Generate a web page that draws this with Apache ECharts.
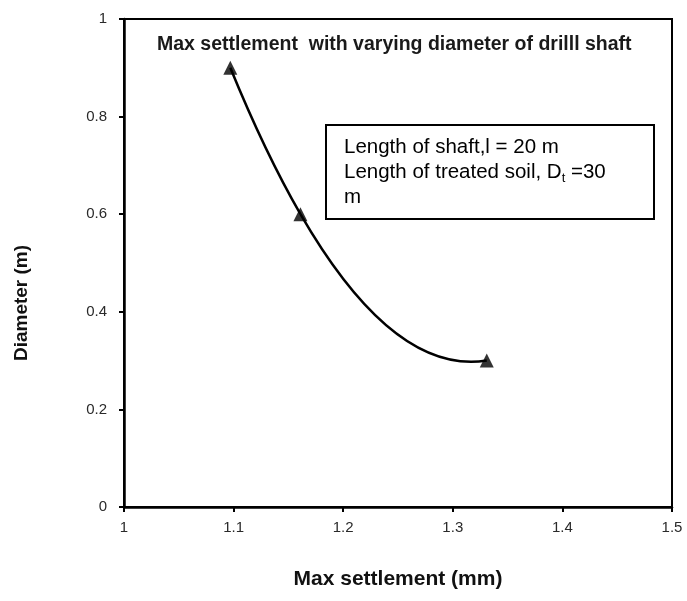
<!DOCTYPE html>
<html><head><meta charset="utf-8">
<script src="https://cdn.jsdelivr.net/npm/echarts@6/dist/echarts.min.js"></script>
<style>html,body{margin:0;padding:0;background:#fff}#c{width:687px;height:601px}</style>
</head><body><div id="c"></div>
<script>
var settlement = [1.097, 1.161, 1.331];
var diameter = [0.9, 0.6, 0.3];
var xTicks = [1, 1.1, 1.2, 1.3, 1.4, 1.5];
var yTicks = [0, 0.2, 0.4, 0.6, 0.8, 1];
var chartTitle = 'Max settlement  with varying diameter of drilll shaft';
var xName = 'Max settlement (mm)';
var yName = 'Diameter (m)';
var noteLines = ['Length of shaft,l = 20 m', 'Length of treated soil, D{sub|t} =30', 'm'];

var pts = settlement.map(function (x, i) { return [x, diameter[i]]; });
var font = 'Liberation Sans, Arial, sans-serif';

// Smooth curve through the data points (cubic Hermite with Bessel tangents), drawn via axis scales
function renderCurve(params, api) {
  if (params.dataIndex !== 0) return null;
  var p = pts.map(function (d) { return api.coord(d); });
  var n = p.length, h = [], s = [], m = [], i;
  for (i = 0; i < n - 1; i++) { h[i] = p[i + 1][0] - p[i][0]; s[i] = (p[i + 1][1] - p[i][1]) / h[i]; }
  for (i = 1; i < n - 1; i++) m[i] = (h[i] * s[i - 1] + h[i - 1] * s[i]) / (h[i - 1] + h[i]);
  if (n > 2) { m[0] = 2 * s[0] - m[1]; m[n - 1] = 2 * s[n - 2] - m[n - 2]; }
  else { m[0] = s[0]; m[1] = s[0]; }
  var children = [];
  for (i = 0; i < n - 1; i++) {
    children.push({
      type: 'bezierCurve',
      shape: {
        x1: p[i][0], y1: p[i][1], x2: p[i + 1][0], y2: p[i + 1][1],
        cpx1: p[i][0] + h[i] / 3, cpy1: p[i][1] + m[i] * h[i] / 3,
        cpx2: p[i + 1][0] - h[i] / 3, cpy2: p[i + 1][1] - m[i + 1] * h[i] / 3
      },
      style: { stroke: '#000', lineWidth: 2.5, fill: null }
    });
  }
  return { type: 'group', children: children };
}

var chart = echarts.init(document.getElementById('c'));
chart.setOption({
  animation: false,
  grid: { left: 124, right: 15, top: 19, bottom: 94, show: true, borderColor: '#000', borderWidth: 2 },
  xAxis: {
    type: 'value', min: xTicks[0], max: xTicks[xTicks.length - 1], interval: 0.1,
    name: xName, nameLocation: 'middle', nameGap: 62,
    nameTextStyle: { fontFamily: font, fontWeight: 'bold', fontSize: 21, color: '#111' },
    axisLine: { lineStyle: { color: '#000', width: 2.5 } },
    axisTick: { inside: false, length: 5, lineStyle: { color: '#000', width: 2 } },
    axisLabel: { fontFamily: font, fontSize: 15, color: '#2a2a2a', margin: 13,
      formatter: function (v) { return String(Math.round(v * 10) / 10); } },
    splitLine: { show: false }
  },
  yAxis: {
    type: 'value', min: yTicks[0], max: yTicks[yTicks.length - 1], interval: 0.2,
    axisLine: { lineStyle: { color: '#000', width: 2.5 } },
    axisTick: { inside: false, length: 5, lineStyle: { color: '#000', width: 2 } },
    axisLabel: { fontFamily: font, fontSize: 15, color: '#2a2a2a', margin: 17,
      formatter: function (v) { return String(Math.round(v * 10) / 10); } },
    splitLine: { show: false }
  },
  series: [
    { type: 'custom', data: pts, renderItem: renderCurve, z: 2, clip: false },
    { type: 'scatter', data: pts, symbol: 'triangle', symbolSize: 14,
      itemStyle: { color: '#000' }, z: 3 }
  ],
  graphic: [
    { type: 'text', x: 22, y: 303, rotation: Math.PI / 2,
      style: { text: yName, font: 'bold 19px ' + font, fill: '#111', align: 'center', verticalAlign: 'middle' } },
    { type: 'text', left: 157, top: 35,
      style: { text: chartTitle, font: 'bold 19.5px ' + font, fill: '#1a1a1a' } },
    { type: 'rect', shape: { x: 326, y: 125, width: 328, height: 94 },
      style: { fill: '#fff', stroke: '#000', lineWidth: 2 } },
    { type: 'text', left: 344, top: 135,
      style: {
        text: noteLines.join('\n'),
        font: '20.5px ' + font, fill: '#000', lineHeight: 25,
        rich: { sub: { fontSize: 13, fontFamily: font, verticalAlign: 'bottom', padding: [9, 0, 0, 0], fill: '#000' } }
      } }
  ]
});
</script></body></html>
